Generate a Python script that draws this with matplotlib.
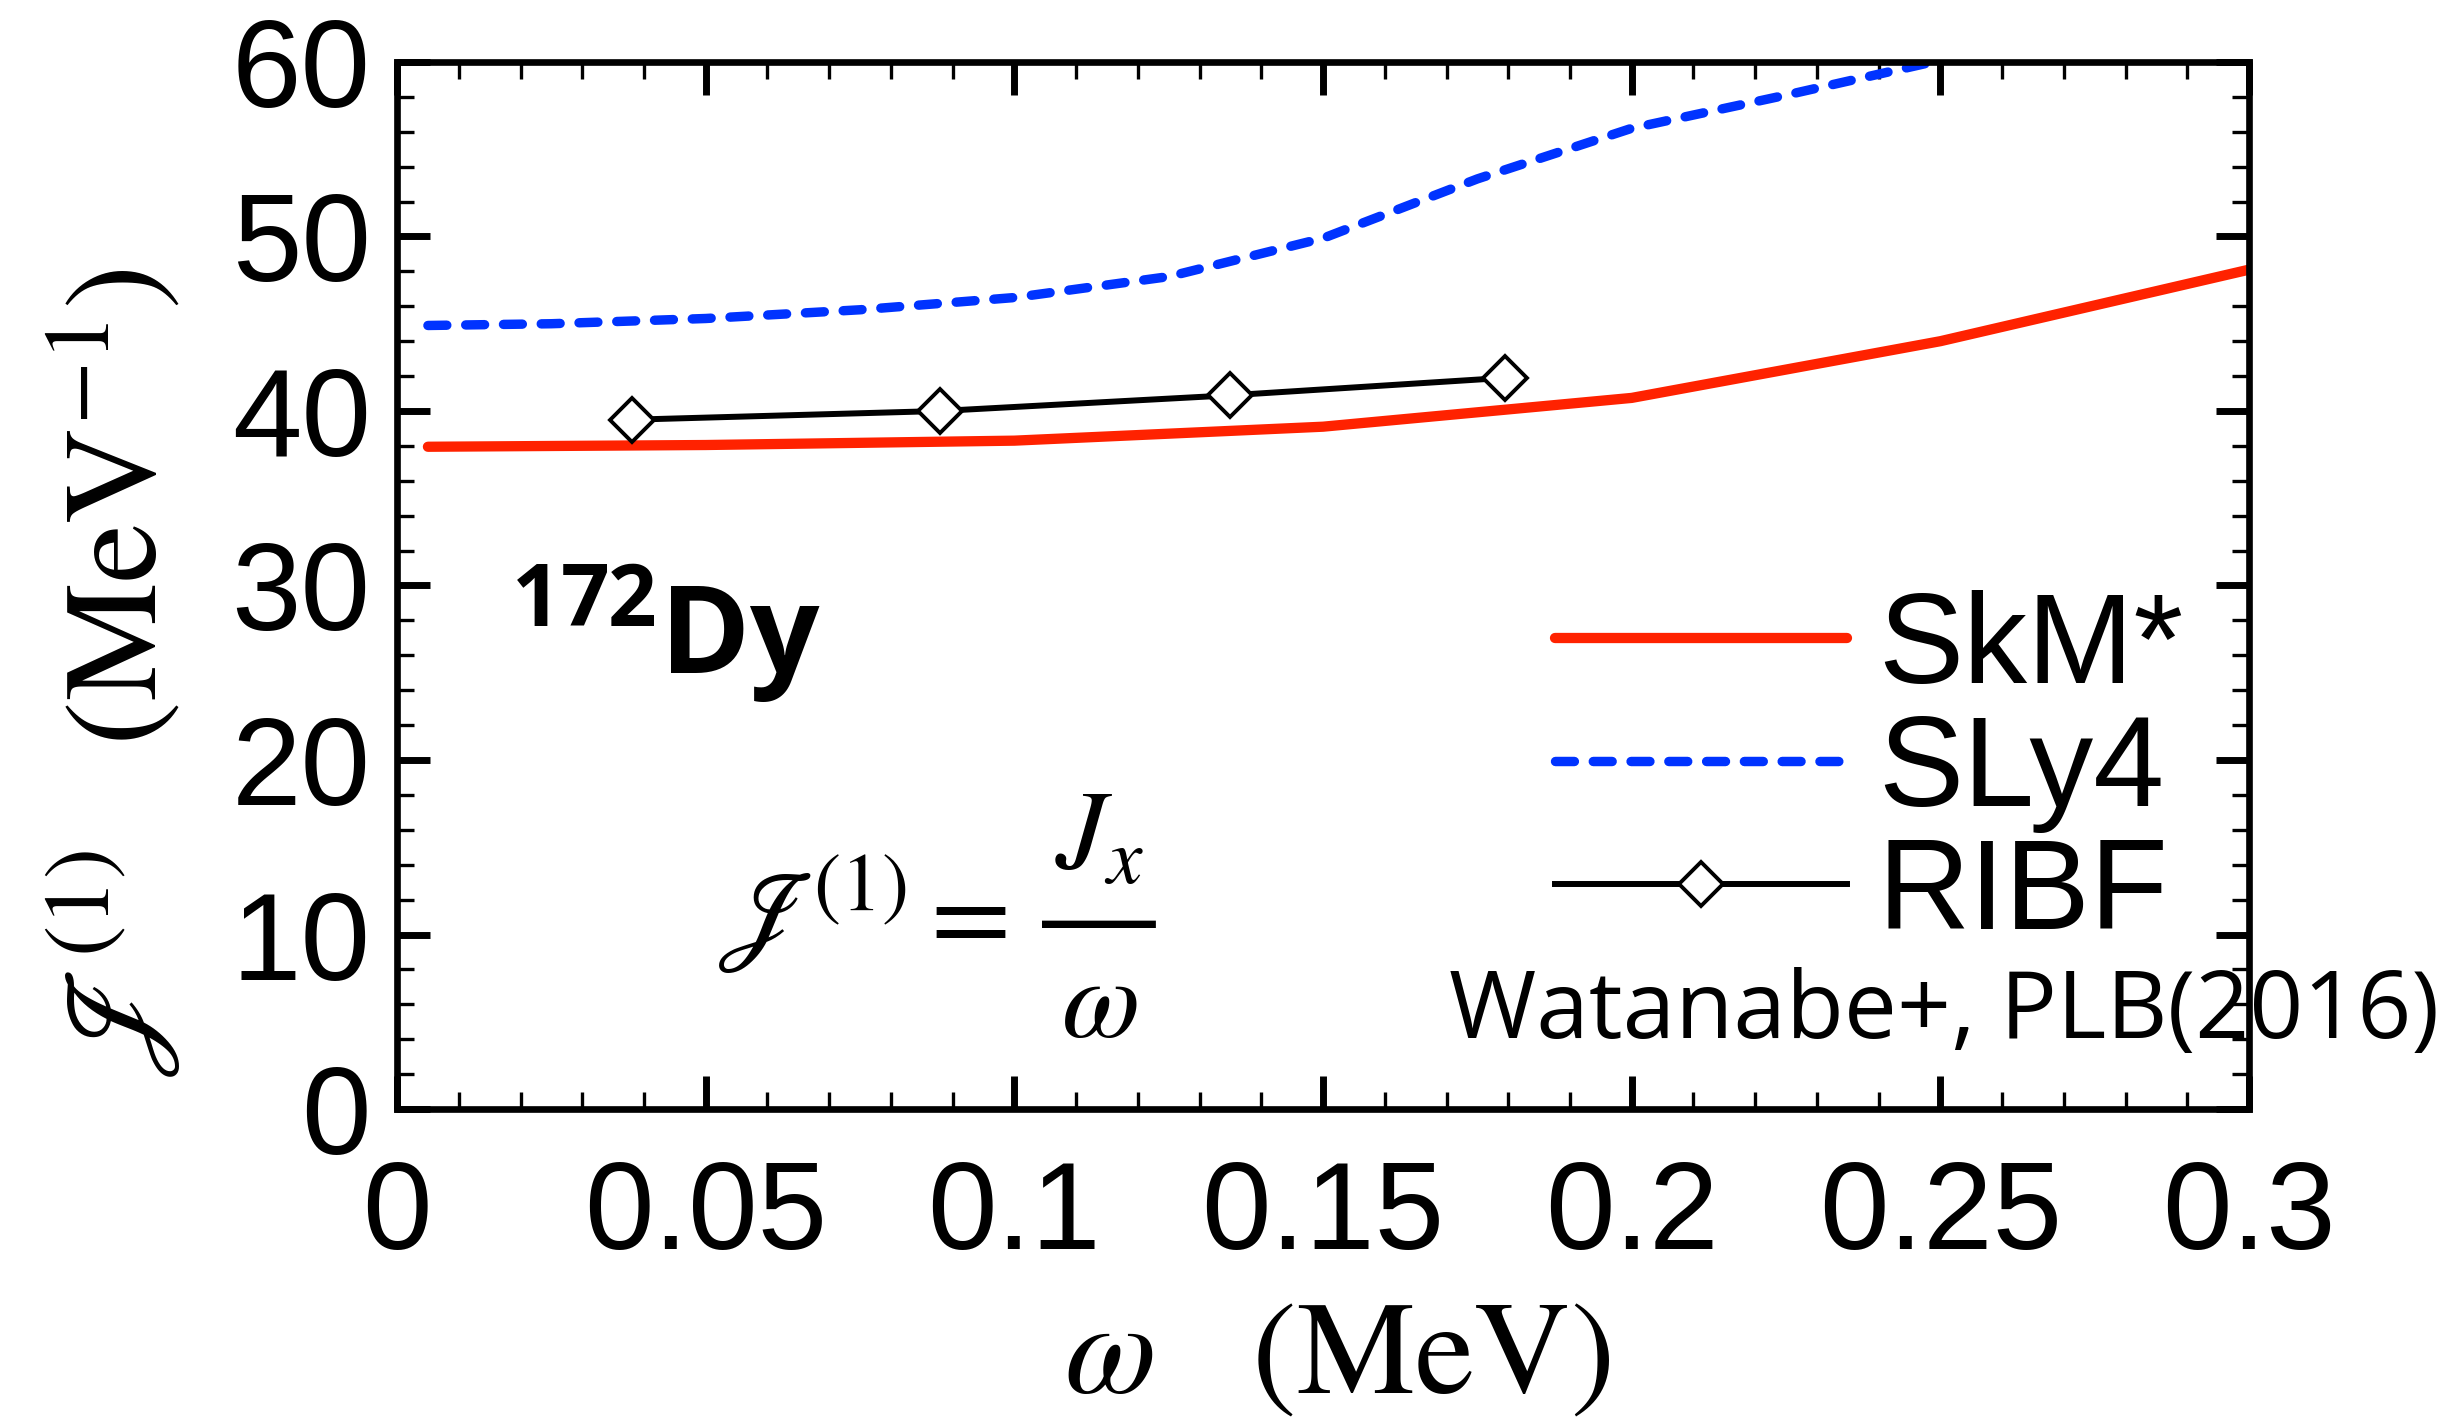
import matplotlib
matplotlib.use("Agg")
import matplotlib.pyplot as plt
from matplotlib.ticker import MultipleLocator, FixedLocator, FixedFormatter

# Moment of inertia J(1) vs rotational frequency for 172Dy
omega_skm = [0.005, 0.05, 0.10, 0.15, 0.20, 0.25, 0.30]
J1_skm = [37.95, 38.05, 38.3, 39.1, 40.75, 44.0, 48.1]

omega_sly4 = [0.005, 0.025, 0.05, 0.075, 0.10, 0.125, 0.15, 0.175, 0.20, 0.225, 0.25, 0.26]
J1_sly4 = [44.9, 45.0, 45.3, 45.8, 46.5, 47.7, 49.9, 53.3, 56.2, 58.1, 60.1, 60.8]

omega_ribf = [0.038, 0.088, 0.135, 0.1795]
J1_ribf = [39.5, 40.0, 40.9, 41.9]

xticks = [0, 0.05, 0.1, 0.15, 0.2, 0.25, 0.3]
xticklabels = ["0", "0.05", "0.1", "0.15", "0.2", "0.25", "0.3"]
yticks = [0, 10, 20, 30, 40, 50, 60]

plt.rcParams["font.family"] = ["Liberation Sans", "DejaVu Sans"]
plt.rcParams["mathtext.fontset"] = "stix"
plt.rcParams["mathtext.bf"] = "Open Sans:bold"

fig = plt.figure(figsize=(24.54, 14.18), dpi=100)
ax = fig.add_axes([0.1618, 0.2179, 0.7547, 0.7384])

ax.plot(omega_skm, J1_skm, color="#ff2200", lw=7.4, solid_capstyle="round",
        label="SkM*")
ax.plot(omega_sly4, J1_sly4, color="#0033ff", lw=6.8, dashes=(2.0, 2.0),
        dash_capstyle="round", label="SLy4")
ax.plot(omega_ribf, J1_ribf, color="black", lw=4.3, marker="D", ms=22,
        mfc="white", mec="black", mew=2.8, label="RIBF")

ax.set_xlim(0, 0.3)
ax.set_ylim(0, 60)
ax.xaxis.set_major_locator(FixedLocator(xticks))
ax.xaxis.set_major_formatter(FixedFormatter(xticklabels))
ax.xaxis.set_minor_locator(MultipleLocator(0.01))
ax.yaxis.set_major_locator(FixedLocator(yticks))
ax.yaxis.set_minor_locator(MultipleLocator(2))

ax.tick_params(which="both", direction="in", top=True, right=True)
ax.tick_params(which="major", length=24, width=5, labelsize=90)
ax.tick_params(which="minor", length=12, width=2.4)
ax.tick_params(axis="x", which="major", pad=36)
ax.tick_params(axis="y", which="major", pad=19)
for s in ax.spines.values():
    s.set_linewidth(4.8)

ax.set_xlabel(r"$\omega\quad(\mathrm{MeV})$", fontsize=96)
ax.xaxis.set_label_coords(0.5076, -0.178)
ax.set_ylabel(r"$\mathscr{J}^{(1)}\quad(\mathrm{MeV}^{-1})$", fontsize=96)
ax.yaxis.set_label_coords(-0.1146, 0.416)

ax.legend(loc="upper left", bbox_to_anchor=(0.625, 0.496), frameon=False,
          fontsize=92, handlelength=2.29, handletextpad=0.24, labelspacing=0.025,
          borderpad=0, borderaxespad=0, numpoints=1)

ax.text(0.061, 0.416, r"$\mathbf{^{172}}$Dy", transform=ax.transAxes,
        fontsize=88, fontweight="bold", family="Open Sans",
        math_fontfamily="custom", va="baseline")

# J(1) = Jx / omega, fraction stacked as three lines
ax.text(0.1728, 0.149, r"$\mathscr{J}^{\!(1)} =$", transform=ax.transAxes,
        fontsize=84, ha="left", va="baseline")
ax.text(0.379, 0.1767, "$J_x$\n\u2014\n$\\omega$", transform=ax.transAxes,
        fontsize=82, ha="center", va="center", multialignment="center",
        linespacing=0.73)

fig.text(0.994, 0.268, "Watanabe+, PLB(2016)", ha="right", va="baseline",
         fontsize=68, family="Open Sans")

fig.savefig("out.png", dpi=100)
